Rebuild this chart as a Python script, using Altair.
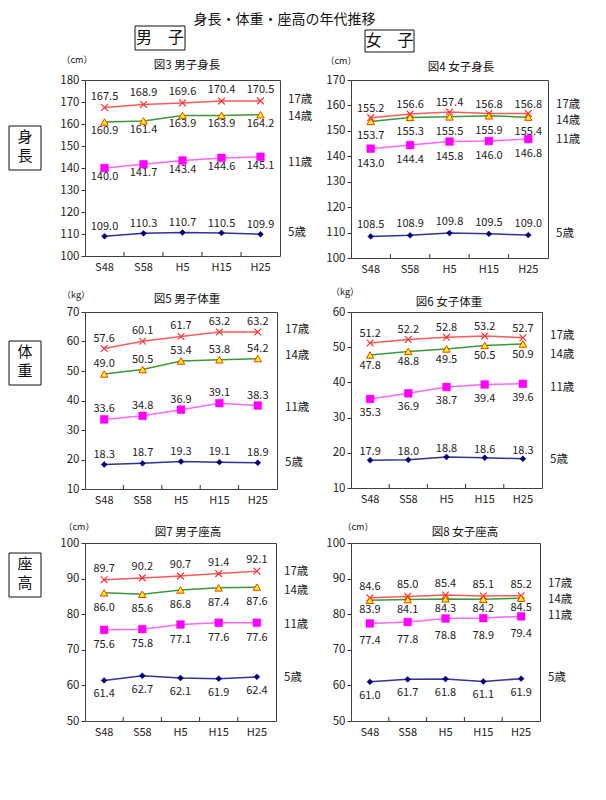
import altair as alt
import pandas as pd

FONT = "Noto Sans CJK JP"

years = ["S48", "S58", "H5", "H15", "H25"]
ages = ["17歳", "14歳", "11歳", "5歳"]

male_height = {
    "17歳": [167.5, 168.9, 169.6, 170.4, 170.5],
    "14歳": [160.9, 161.4, 163.9, 163.9, 164.2],
    "11歳": [140.0, 141.7, 143.4, 144.6, 145.1],
    "5歳": [109.0, 110.3, 110.7, 110.5, 109.9],
}
female_height = {
    "17歳": [155.2, 156.6, 157.4, 156.8, 156.8],
    "14歳": [153.7, 155.3, 155.5, 155.9, 155.4],
    "11歳": [143.0, 144.4, 145.8, 146.0, 146.8],
    "5歳": [108.5, 108.9, 109.8, 109.5, 109.0],
}
male_weight = {
    "17歳": [57.6, 60.1, 61.7, 63.2, 63.2],
    "14歳": [49.0, 50.5, 53.4, 53.8, 54.2],
    "11歳": [33.6, 34.8, 36.9, 39.1, 38.3],
    "5歳": [18.3, 18.7, 19.3, 19.1, 18.9],
}
female_weight = {
    "17歳": [51.2, 52.2, 52.8, 53.2, 52.7],
    "14歳": [47.8, 48.8, 49.5, 50.5, 50.9],
    "11歳": [35.3, 36.9, 38.7, 39.4, 39.6],
    "5歳": [17.9, 18.0, 18.8, 18.6, 18.3],
}
male_sitting = {
    "17歳": [89.7, 90.2, 90.7, 91.4, 92.1],
    "14歳": [86.0, 85.6, 86.8, 87.4, 87.6],
    "11歳": [75.6, 75.8, 77.1, 77.6, 77.6],
    "5歳": [61.4, 62.7, 62.1, 61.9, 62.4],
}
female_sitting = {
    "17歳": [84.6, 85.0, 85.4, 85.1, 85.2],
    "14歳": [83.9, 84.1, 84.3, 84.2, 84.5],
    "11歳": [77.4, 77.8, 78.8, 78.9, 79.4],
    "5歳": [61.0, 61.7, 61.8, 61.1, 61.9],
}

# where the age tags on the right of each chart sit (value units)
male_height_tags = [171.0, 163.4, 142.1, 110.5]
female_height_tags = [160.1, 153.8, 146.4, 109.5]
male_weight_tags = [63.9, 55.2, 37.3, 18.7]
female_weight_tags = [53.1, 47.7, 38.4, 17.9]
male_sitting_tags = [91.9, 86.5, 77.1, 62.2]
female_sitting_tags = [88.4, 84.0, 79.5, 62.0]

line_colors = ["#FF5A5A", "#3A9A3A", "#FF66FF", "#333399"]
CROSS = "M-1,-1L1,1M-1,1L1,-1"
one = pd.DataFrame({"d": [0]})


def deco_text(txt, x, y, size, align="center", baseline="middle", **kw):
    return alt.Chart(one).mark_text(
        font=FONT, fontSize=size, color="#111", align=align, baseline=baseline, **kw
    ).encode(x=alt.value(x), y=alt.value(y), text=alt.value(txt))


def deco_box(x1, x2, y1, y2):
    return alt.Chart(one).mark_rect(fill="white", stroke="#111", strokeWidth=1).encode(
        x=alt.value(x1), x2=alt.value(x2), y=alt.value(y1), y2=alt.value(y2)
    )


def panel(series, tags, domain, step, width, height, title, title_xy, unit, unit_xy, dys, extras):
    rows = []
    for a in ages:
        for y, v in zip(years, series[a]):
            rows.append({"year": y, "age": a, "value": v})
    df = pd.DataFrame(rows)
    base = alt.Chart(df)

    xscale = alt.Scale(type="band", domain=years, paddingInner=0, paddingOuter=0)
    xaxis = alt.Axis(title=None, labelAngle=0, tickSize=0, domain=False, labelPadding=5,
                     labelFontSize=11, labelFont=FONT, labelColor="#222")
    yscale = alt.Scale(domain=domain, nice=False, zero=False)
    yaxis = alt.Axis(title=None, values=list(range(domain[0], domain[1] + 1, step)),
                     tickSize=4, tickColor="#333", domain=False, grid=False, labelPadding=2,
                     labelFontSize=11.5, labelFont=FONT, labelColor="#222")
    X = alt.X("year:N", scale=xscale, axis=xaxis, sort=years)
    Y = alt.Y("value:Q", scale=yscale, axis=yaxis)

    layers = []
    layers.append(base.mark_line(strokeWidth=1.5).encode(
        x=X, y=Y,
        color=alt.Color("age:N", scale=alt.Scale(domain=ages, range=line_colors), legend=None),
    ))
    # inward category ticks
    tick_df = pd.DataFrame({"year": years[1:]})
    layers.append(alt.Chart(tick_df).mark_rule(color="#333", strokeWidth=1).encode(
        x=alt.X("year:N", scale=xscale, axis=xaxis, sort=years, bandPosition=0),
        y=alt.value(height), y2=alt.value(height - 4),
    ))
    marks = {
        "17歳": dict(shape=CROSS, filled=False, stroke="#FF3333", strokeWidth=1.2, size=45, opacity=1),
        "14歳": dict(shape="triangle-up", filled=True, fill="#FFFF00", stroke="#FF3300", strokeWidth=1, size=55, opacity=1),
        "11歳": dict(shape="square", filled=True, fill="#FF00FF", stroke="#FF00FF", strokeWidth=0.5, size=60, opacity=1),
        "5歳": dict(shape="diamond", filled=True, fill="#000080", stroke="#000080", strokeWidth=0.5, size=35, opacity=1),
    }
    for a, dy in zip(ages, dys):
        sub = base.transform_filter(alt.datum.age == a)
        layers.append(sub.mark_point(**marks[a]).encode(x=X, y=Y))
        layers.append(sub.mark_text(font=FONT, fontSize=11, color="#222", dy=dy).encode(
            x=X, y=Y, text=alt.Text("value:Q", format=".1f")))
    tag_df = pd.DataFrame({"age": ages, "value": tags})
    layers.append(alt.Chart(tag_df).mark_text(font=FONT, fontSize=11.5, color="#222",
                                              align="left", baseline="middle").encode(
        x=alt.value(width + 8), y=Y, text="age:N"))
    layers.append(deco_text(title, title_xy[0], title_xy[1], 11.5))
    layers.append(deco_text(unit, unit_xy[0], unit_xy[1], 9))
    layers += extras
    return alt.layer(*layers).properties(width=width, height=height)


p1 = panel(male_height, male_height_tags, [100, 180], 10, 195, 176, "図3  男子身長", (102, -14),
           "（cm）", (-8, -20), [-11, 9, 9, -9],
           [deco_box(50, 100, -54, -30), deco_text("男　子", 75, -42, 16),
            deco_box(-76, -44, 46, 90), deco_text("身\n長", -60, 50, 15, baseline="top", lineBreak="\n", lineHeight=19)])
p2 = panel(female_height, female_height_tags, [100, 170], 10, 197, 178, "図4  女子身長", (110, -12),
           "（cm）", (-10, -19), [-9, 15, 15, -11],
           [deco_box(14, 63, -50, -28), deco_text("女　子", 38.5, -39, 16)])
p3 = panel(male_weight, male_weight_tags, [10, 70], 10, 192, 177, "図5  男子体重", (102, -12),
           "（kg）", (-9, -17), [-10, -10, -10, -10],
           [deco_box(-76, -44, 29, 73), deco_text("体\n重", -60, 33, 15, baseline="top", lineBreak="\n", lineHeight=19)])
p4 = panel(female_weight, female_weight_tags, [10, 60], 10, 191, 176, "図6  女子体重", (98, -9),
           "（kg）", (-6, -20), [-9, 11, 14, -8], [])
p5 = panel(male_sitting, male_sitting_tags, [50, 100], 10, 191, 178, "図7  男子座高", (103, -10),
           "（cm）", (-6, -16), [-11, 15, 15, 14],
           [deco_box(-76, -44, 10, 54), deco_text("座\n高", -60, 14, 15, baseline="top", lineBreak="\n", lineHeight=19)])
p6 = panel(female_sitting, female_sitting_tags, [50, 100], 10, 189, 178, "図8  女子座高", (114, -10),
           "（cm）", (7, -16), [-11, 10, 18, 14], [])

chart = alt.concat(
    p1, p2, p3, p4, p5, p6, columns=2, spacing={"row": 54, "column": 71},
    bounds="flush", align="each",
).properties(
    title=alt.TitleParams("身長・体重・座高の年代推移", font=FONT, fontSize=14, fontWeight="normal",
                          color="#111", offset=-2, anchor="middle", dx=-10),
    padding={"left": 0, "top": 5, "right": 5, "bottom": 5},
    background="white",
).configure_view(stroke="#404040", strokeWidth=1)

chart.save("out.html", embed_options={"renderer": "svg", "actions": False})
